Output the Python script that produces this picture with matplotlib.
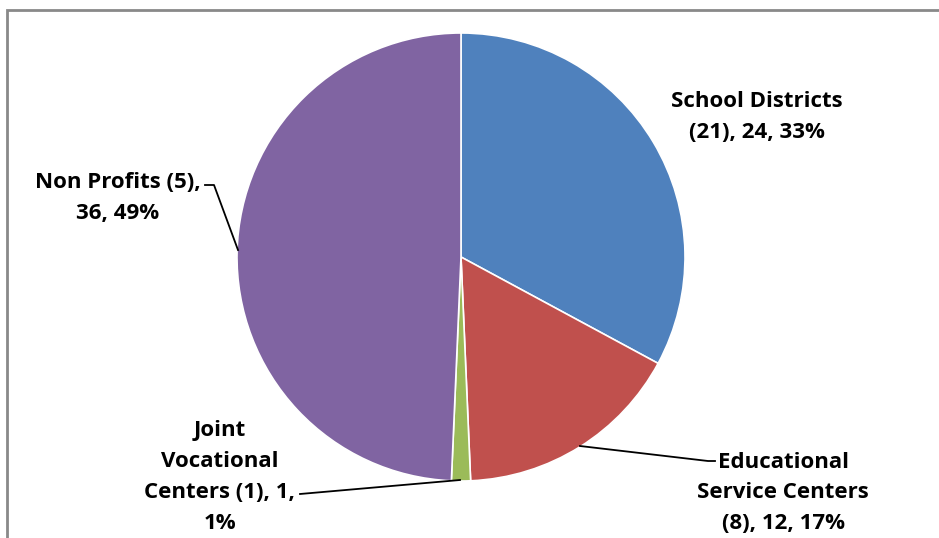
import matplotlib.pyplot as plt
from matplotlib.patches import Rectangle

# data
categories = ['School Districts (21)', 'Educational Service Centers (8)',
              'Joint Vocational Centers (1)', 'Non Profits (5)']
values = [24, 12, 1, 36]
percents = ['33%', '17%', '1%', '49%']
colors = ['#4F81BD', '#C0504D', '#9BBB59', '#8064A2']

W, H = 939, 538
fig = plt.figure(figsize=(W / 100, H / 100), dpi=100)
ax = fig.add_axes([0, 0, 1, 1])

def py(y):
    # pixel row -> data y
    return H - y

# chart frame
ax.add_patch(Rectangle((7, py(560)), 960, 550, fill=False,
                       edgecolor='#898989', linewidth=2))

ax.pie(values, colors=colors, startangle=90, counterclock=False,
       center=(461, py(257)), radius=224, frame=True,
       wedgeprops=dict(edgecolor='white', linewidth=1.2))
ax.set_xlim(0, W)
ax.set_ylim(0, H)
ax.set_aspect('equal')
ax.axis('off')

font = dict(family=['Open Sans', 'DejaVu Sans'], fontsize=16, fontweight='bold',
            color='black', ha='center', va='center', linespacing=1.62)

ax.text(757, py(117), 'School Districts\n(21), %d, %s' % (values[0], percents[0]), **font)
ax.text(783, py(493), 'Educational\nService Centers\n(8), %d, %s' % (values[1], percents[1]), **font)
ax.text(220, py(477), 'Joint\nVocational\nCenters (1), %d,\n%s' % (values[2], percents[2]), **font)
ax.text(118, py(198), 'Non Profits (5),\n%d, %s' % (values[3], percents[3]), **font)

# leader lines
lk = dict(color='black', linewidth=1.3)
ax.plot([580, 708, 715], [py(446), py(461), py(461)], **lk)
ax.plot([300, 460], [py(494), py(480)], **lk)
ax.plot([205, 214, 238], [py(185), py(185), py(250)], **lk)

fig.savefig('out.png', dpi=100)
